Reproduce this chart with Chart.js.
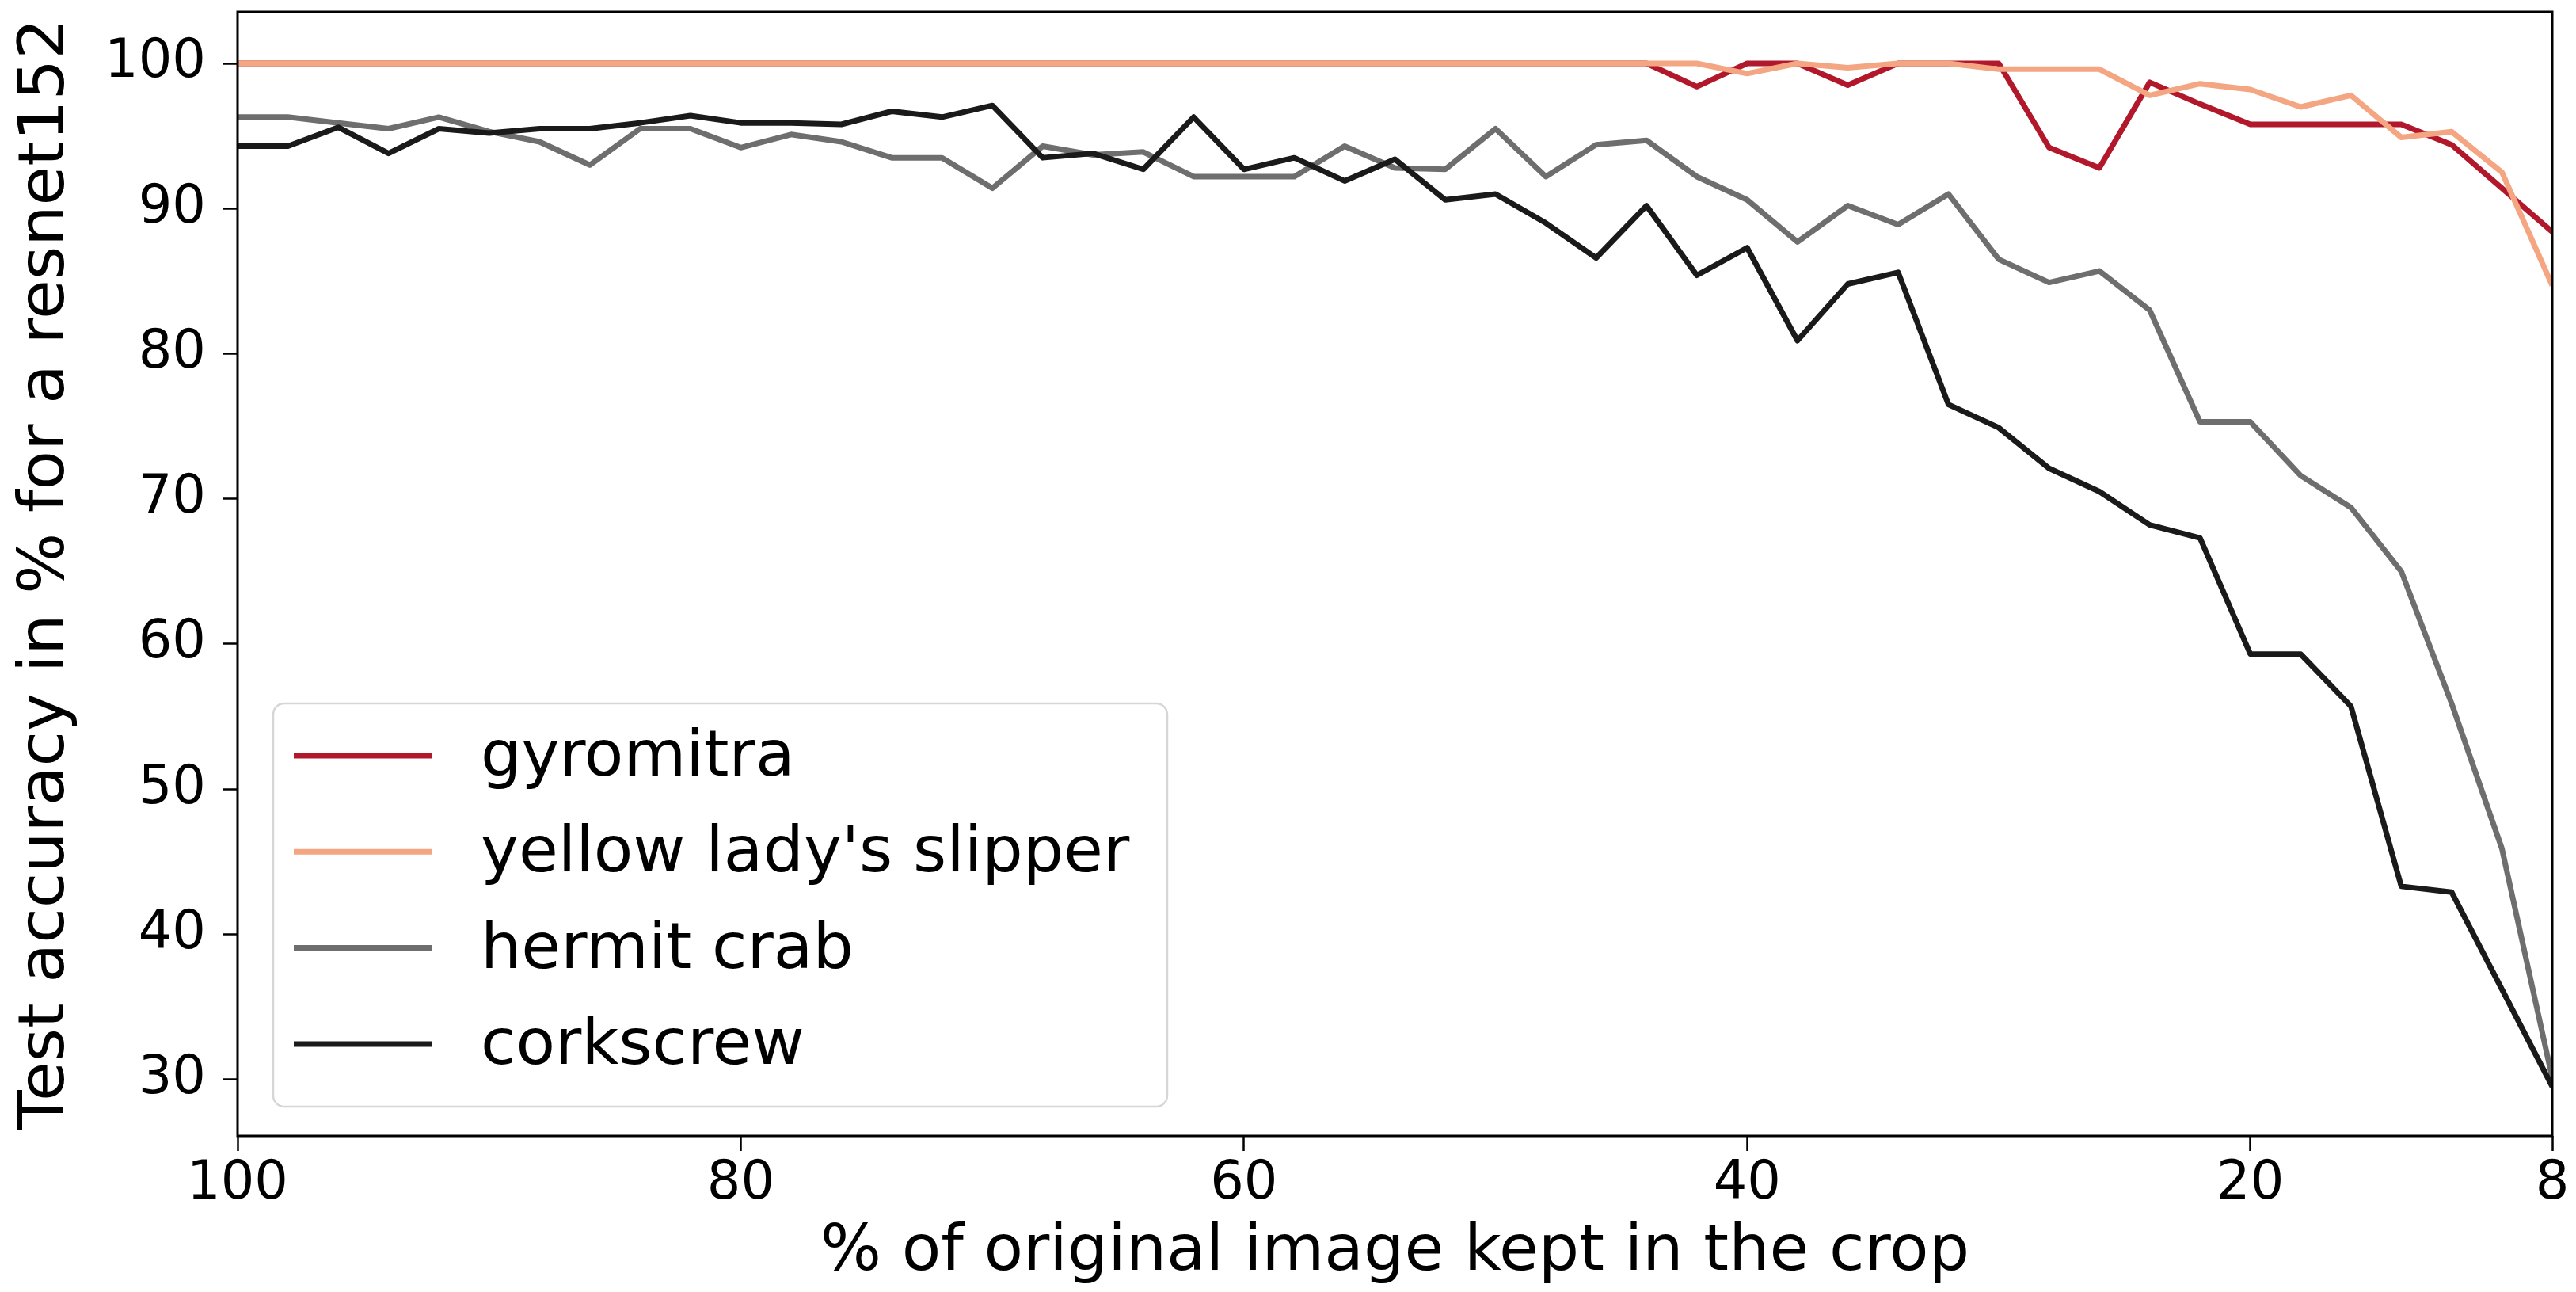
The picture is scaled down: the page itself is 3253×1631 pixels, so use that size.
<!DOCTYPE html>
<html>
<head>
<meta charset="utf-8">
<title>Test accuracy vs crop size</title>
<script src="https://cdn.jsdelivr.net/npm/chart.js@4.4.1/dist/chart.umd.min.js"></script>
<style>
  html, body { margin: 0; padding: 0; background: #fff; }
  #wrap { width: 3253px; height: 1631px; position: relative; }
</style>
</head>
<body>
<div id="wrap"><canvas id="cropChart"></canvas></div>
<script>
// % of the original image kept in the crop (x axis runs from 100 down to 8)
const cropKept = [100, 98, 96, 94, 92, 90, 88, 86, 84, 82,
                  80, 78, 76, 74, 72, 70, 68, 66, 64, 62,
                  60, 58, 56, 54, 52, 50, 48, 46, 44, 42,
                  40, 38, 36, 34, 32, 30, 28, 26, 24, 22,
                  20, 18, 16, 14, 12, 10, 8];

// Test accuracy in % per class, one value per crop size
const gyromitra = [100, 100, 100, 100, 100, 100, 100, 100, 100, 100,
                   100, 100, 100, 100, 100, 100, 100, 100, 100, 100,
                   100, 100, 100, 100, 100, 100, 100, 100, 100, 98.4,
                   100, 100, 98.5, 100, 100, 100, 94.2, 92.8, 98.7, 97.2,
                   95.8, 95.8, 95.8, 95.8, 94.4, 91.4, 88.4];

const yellowLadysSlipper = [100, 100, 100, 100, 100, 100, 100, 100, 100, 100,
                            100, 100, 100, 100, 100, 100, 100, 100, 100, 100,
                            100, 100, 100, 100, 100, 100, 100, 100, 100, 100,
                            99.3, 100, 99.7, 100, 100, 99.6, 99.6, 99.6, 97.8, 98.6,
                            98.2, 97.0, 97.8, 94.9, 95.3, 92.5, 84.7];

const hermitCrab = [96.3, 96.3, 95.9, 95.5, 96.3, 95.3, 94.6, 93.0, 95.5, 95.5,
                    94.2, 95.1, 94.6, 93.5, 93.5, 91.4, 94.3, 93.7, 93.9, 92.2,
                    92.2, 92.2, 94.3, 92.8, 92.7, 95.5, 92.2, 94.4, 94.7, 92.2,
                    90.6, 87.7, 90.2, 88.9, 91.0, 86.5, 84.9, 85.7, 83.0, 75.3,
                    75.3, 71.6, 69.4, 65.0, 55.9, 45.9, 30.1];

const corkscrew = [94.3, 94.3, 95.6, 93.8, 95.5, 95.2, 95.5, 95.5, 95.9, 96.4,
                   95.9, 95.9, 95.8, 96.7, 96.3, 97.1, 93.5, 93.8, 92.7, 96.3,
                   92.7, 93.5, 91.9, 93.4, 90.6, 91.0, 89.0, 86.6, 90.2, 85.4,
                   87.3, 80.9, 84.8, 85.6, 76.5, 74.9, 72.1, 70.5, 68.2, 67.3,
                   59.3, 59.3, 55.7, 43.3, 42.9, 36.2, 29.5];

const seriesNames = ['gyromitra', "yellow lady's slipper", 'hermit crab', 'corkscrew'];
const seriesValues = [gyromitra, yellowLadysSlipper, hermitCrab, corkscrew];
const seriesColors = ['#b2182b', '#f4a582', '#6e6e6e', '#1a1a1a'];

const xTickValues = [100, 80, 60, 40, 20, 8];
const yTickValues = [30, 40, 50, 60, 70, 80, 90, 100];

const FONT = '"DejaVu Sans", "Liberation Sans", sans-serif';

// Full box around the plot plus a matplotlib-like legend in the lower left
const framePlugin = {
    id: 'frameAndLegend',
    afterDraw(chart) {
        const { ctx, chartArea } = chart;
        ctx.save();

        ctx.strokeStyle = '#000';
        ctx.lineWidth = 3;
        ctx.strokeRect(chartArea.left, chartArea.top,
                       chartArea.right - chartArea.left, chartArea.bottom - chartArea.top);

        const boxW = 1129;
        const boxH = 509;
        const boxX = chartArea.left + 45;
        const boxY = chartArea.bottom - 37 - boxH;
        ctx.beginPath();
        ctx.roundRect(boxX, boxY, boxW, boxH, 14);
        ctx.fillStyle = 'rgba(255, 255, 255, 0.8)';
        ctx.fill();
        ctx.strokeStyle = '#d6d6d6';
        ctx.lineWidth = 2.5;
        ctx.stroke();

        ctx.font = '81px ' + FONT;
        ctx.textBaseline = 'middle';
        ctx.textAlign = 'left';
        chart.data.datasets.forEach((ds, i) => {
            const y = boxY + 66 + i * 121.3;
            ctx.strokeStyle = ds.borderColor;
            ctx.lineWidth = 7;
            ctx.lineCap = 'butt';
            ctx.beginPath();
            ctx.moveTo(boxX + 26, y);
            ctx.lineTo(boxX + 200, y);
            ctx.stroke();
            ctx.fillStyle = '#000';
            ctx.fillText(ds.label, boxX + 262, y + 4);
        });

        ctx.restore();
    }
};

const datasets = seriesNames.map((name, i) => ({
    label: name,
    data: cropKept.map((x, j) => ({ x: x, y: seriesValues[i][j] })),
    borderColor: seriesColors[i],
    backgroundColor: seriesColors[i],
    borderWidth: 7,
    borderJoinStyle: 'round',
    pointRadius: 0,
    tension: 0,
    fill: false,
    order: seriesNames.length - i
}));

const ctx = document.getElementById('cropChart').getContext('2d');
new Chart(ctx, {
    type: 'line',
    data: { datasets: datasets },
    plugins: [framePlugin],
    options: {
        responsive: true,
        maintainAspectRatio: false,
        animation: false,
        layout: { padding: { top: 15, right: 30, left: 0, bottom: 0 } },
        plugins: {
            legend: { display: false },
            tooltip: { enabled: false }
        },
        scales: {
            x: {
                type: 'linear',
                reverse: true,
                min: 8,
                max: 100,
                afterBuildTicks: scale => {
                    scale.ticks = xTickValues.map(v => ({ value: v }));
                },
                afterFit: scale => {
                    scale.height = 197;
                    scale.paddingLeft = 0;
                    scale.paddingRight = 0;
                },
                grid: {
                    display: true,
                    drawOnChartArea: false,
                    drawTicks: true,
                    tickLength: 19,
                    tickWidth: 2.5,
                    tickColor: '#000'
                },
                border: { display: false },
                ticks: {
                    color: '#000',
                    font: { family: FONT, size: 67 },
                    padding: 2,
                    maxRotation: 0,
                    autoSkip: false
                },
                title: {
                    display: true,
                    text: '% of original image kept in the crop',
                    color: '#000',
                    font: { family: FONT, size: 81 },
                    padding: { top: 0, bottom: 0 }
                }
            },
            y: {
                type: 'linear',
                min: 26.1,
                max: 103.55,
                afterBuildTicks: scale => {
                    scale.ticks = yTickValues.map(v => ({ value: v }));
                },
                afterFit: scale => {
                    scale.width = 300;
                    scale.paddingTop = 0;
                    scale.paddingBottom = 0;
                },
                grid: {
                    display: true,
                    drawOnChartArea: false,
                    drawTicks: true,
                    tickLength: 19,
                    tickWidth: 2.5,
                    tickColor: '#000'
                },
                border: { display: false },
                ticks: {
                    color: '#000',
                    font: { family: FONT, size: 67 },
                    padding: 21
                },
                title: {
                    display: true,
                    text: 'Test accuracy in % for a resnet152',
                    color: '#000',
                    font: { family: FONT, size: 81 },
                    padding: { top: 10, bottom: 0 }
                }
            }
        }
    }
});
</script>
</body>
</html>
